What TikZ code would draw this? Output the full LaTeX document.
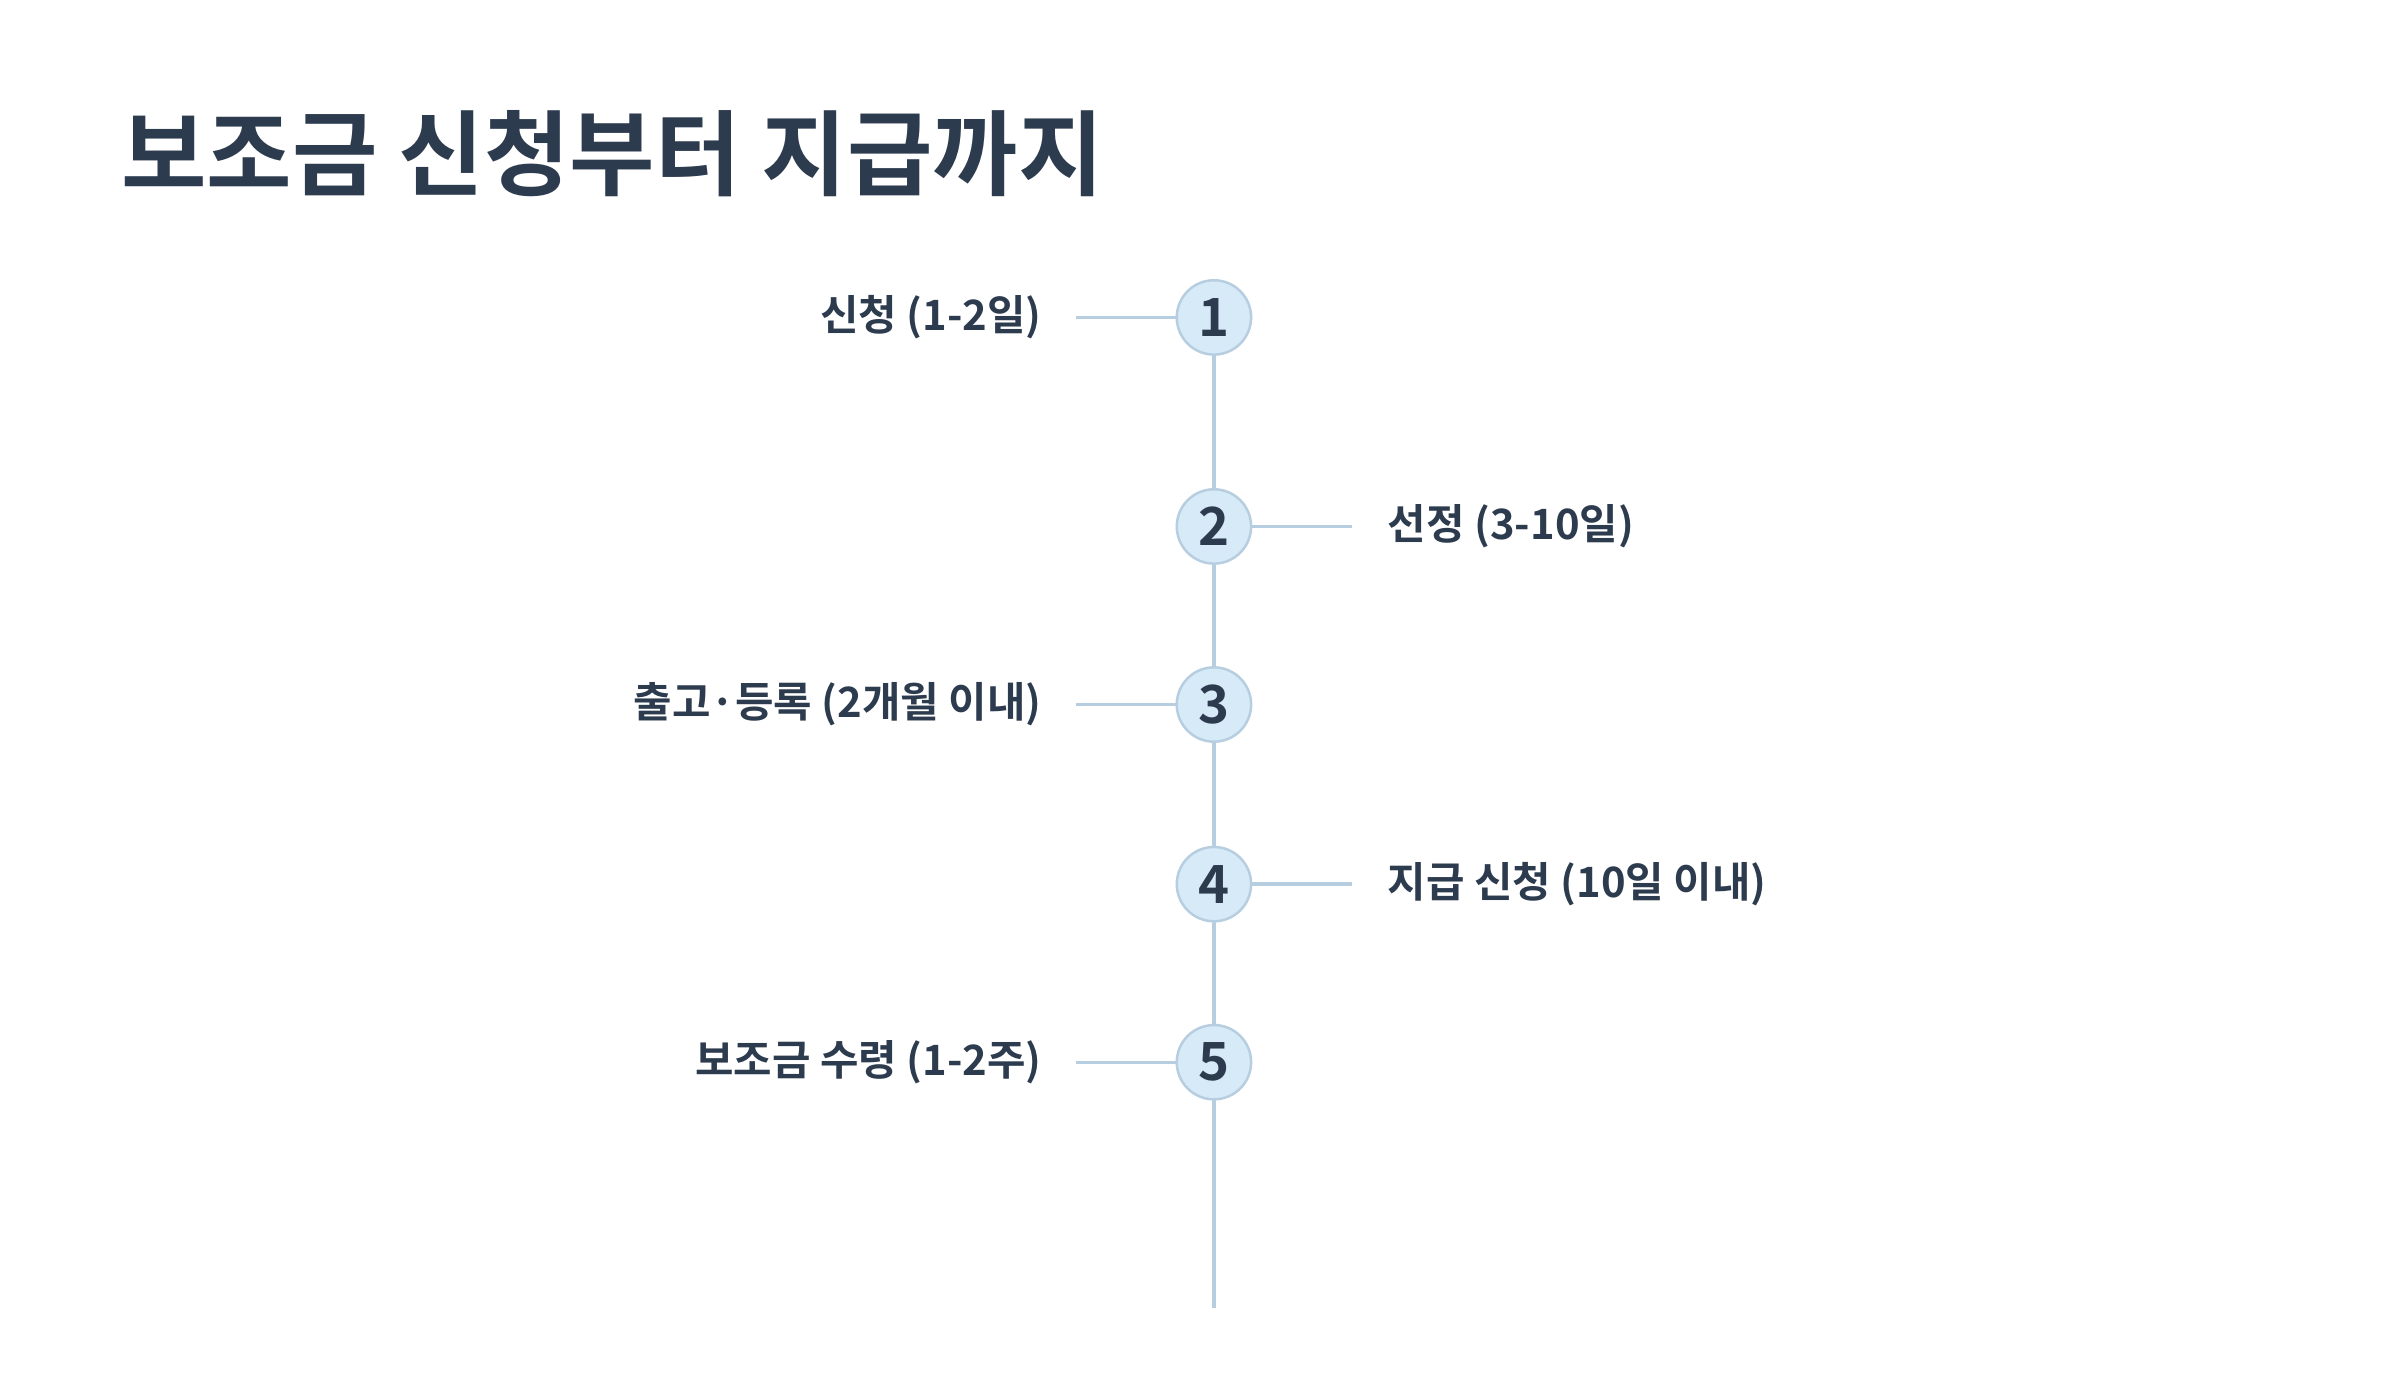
\documentclass[tikz,border=0pt]{standalone}
\usepackage{fontspec}
\setmainfont{Noto Sans CJK KR}
\newfontfamily\krb{Noto Sans CJK KR Bold}
\definecolor{ink}{HTML}{2D3B4E}
\definecolor{cfill}{HTML}{D6EAF8}
\definecolor{cline}{HTML}{B7CEE0}
\begin{document}
\begin{tikzpicture}[x=0.5pt,y=-0.5pt,
  stepnum/.style={circle,fill=cfill,draw=cline,line width=0.8pt,minimum size=24pt,inner sep=0pt,text=ink,font=\krb\fontsize{17}{17}\selectfont},
  conn/.style={draw=cline,line width=1.1pt},
  lab/.style={text=ink,font=\krb\fontsize{13.5}{15}\selectfont,inner sep=0pt}]
\path[use as bounding box,fill=white] (0,0) rectangle (1550,898);
\node[anchor=base west,text=ink,font=\krb\fontsize{30}{32}\selectfont,inner sep=0pt] (title) at (78,122) {보조금 신청부터 지급까지};
\coordinate (bot) at (784,845);
\foreach \i/\y in {1/205,2/340,3/455,4/571,5/686}{
  \coordinate (c\i) at (784,\y);
}
\draw[conn] (c1) -- (bot);
\coordinate (l1) at (695,205); \coordinate (l3) at (695,455); \coordinate (l5) at (695,686);
\coordinate (r2) at (873,340); \coordinate (r4) at (873,571);
\draw[conn] (l1) -- (c1); \draw[conn] (l3) -- (c3); \draw[conn] (l5) -- (c5);
\draw[conn] (r2) -- (c2); \draw[conn] (r4) -- (c4);
\foreach \i in {1,...,5}{ \node[stepnum] (n\i) at (c\i) {\i}; }
\node[lab,anchor=east] (t1) at (673,205) {신청 (1-2일)};
\node[lab,anchor=west] (t2) at (896,340) {선정 (3-10일)};
\node[lab,anchor=east] (t3) at (673,455) {출고·등록 (2개월 이내)};
\node[lab,anchor=west] (t4) at (896,571) {지급 신청 (10일 이내)};
\node[lab,anchor=east] (t5) at (673,686) {보조금 수령 (1-2주)};
\end{tikzpicture}
\end{document}
